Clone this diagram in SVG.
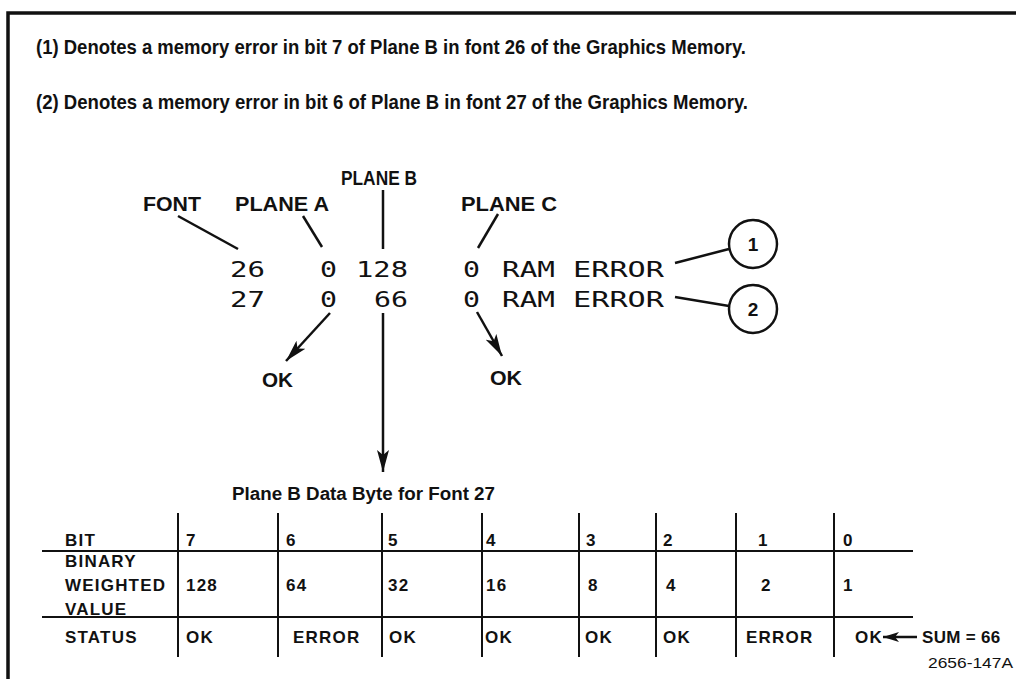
<svg xmlns="http://www.w3.org/2000/svg" width="1016" height="679" viewBox="0 0 1016 679">
<defs>
<style>
.b{font-family:"Liberation Sans",Arial,sans-serif;font-weight:bold;fill:#111}
.hd{font-size:21px}
.lb{font-size:20px}
.tb{font-size:17px;letter-spacing:1.2px}
.lcd{font-family:"DejaVu Sans Mono","Liberation Mono",monospace;font-size:22px;fill:#111}
.ln{stroke:#111;stroke-width:2.5;fill:none}
.tl{stroke:#111;stroke-width:2;fill:none}
.n{font-family:"Liberation Sans",Arial,sans-serif;font-size:15px;fill:#111}
</style>
<marker id="ah" viewBox="0 0 22 12" refX="22" refY="6" markerWidth="22" markerHeight="12" markerUnits="userSpaceOnUse" orient="auto">
<path d="M0,0 L22,6 L0,12 L5,6 Z" fill="#111"/>
</marker>
<marker id="ahs" viewBox="0 0 16 10" refX="16" refY="5" markerWidth="16" markerHeight="10" markerUnits="userSpaceOnUse" orient="auto">
<path d="M0,0 L16,5 L0,10 L4,5 Z" fill="#111"/>
</marker>
</defs>
<rect width="1016" height="679" fill="#fff"/>
<g id="frame">
<path d="M8,679 L8,13 L1016,13" stroke="#111" stroke-width="3.5" fill="none"/>
</g>
<g id="notes">
<text class="b hd" x="36" y="54" textLength="710" lengthAdjust="spacingAndGlyphs">(1) Denotes a memory error in bit 7 of Plane B in font 26 of the Graphics Memory.</text>
<text class="b hd" x="36" y="109" textLength="712" lengthAdjust="spacingAndGlyphs">(2) Denotes a memory error in bit 6 of Plane B in font 27 of the Graphics Memory.</text>
</g>
<g id="label-font"><text class="b lb" x="143" y="211" textLength="58" lengthAdjust="spacingAndGlyphs">FONT</text></g>
<g id="label-plane-a"><text class="b lb" x="235" y="211" textLength="94" lengthAdjust="spacingAndGlyphs">PLANE A</text></g>
<g id="label-plane-b"><text class="b lb" x="341" y="185" textLength="76" lengthAdjust="spacingAndGlyphs">PLANE B</text></g>
<g id="label-plane-c"><text class="b lb" x="461" y="211" textLength="96" lengthAdjust="spacingAndGlyphs">PLANE C</text></g>
<g id="display">
<text class="lcd" x="230" y="277" textLength="35" lengthAdjust="spacingAndGlyphs">26</text>
<text class="lcd" x="320" y="277" textLength="17" lengthAdjust="spacingAndGlyphs">0</text>
<text class="lcd" x="356" y="277" textLength="52" lengthAdjust="spacingAndGlyphs">128</text>
<text class="lcd" x="463" y="277" textLength="17" lengthAdjust="spacingAndGlyphs">0</text>
<text class="lcd" x="502" y="277" textLength="53" lengthAdjust="spacingAndGlyphs">RAM</text>
<text class="lcd" x="573" y="277" textLength="91" lengthAdjust="spacingAndGlyphs">ERROR</text>
<text class="lcd" x="230" y="307" textLength="35" lengthAdjust="spacingAndGlyphs">27</text>
<text class="lcd" x="320" y="307" textLength="17" lengthAdjust="spacingAndGlyphs">0</text>
<text class="lcd" x="374" y="307" textLength="34" lengthAdjust="spacingAndGlyphs">66</text>
<text class="lcd" x="463" y="307" textLength="17" lengthAdjust="spacingAndGlyphs">0</text>
<text class="lcd" x="502" y="307" textLength="53" lengthAdjust="spacingAndGlyphs">RAM</text>
<text class="lcd" x="573" y="307" textLength="91" lengthAdjust="spacingAndGlyphs">ERROR</text>
</g>
<g id="note-1">
<circle cx="753" cy="244" r="24" class="ln"/>
<text class="b" x="753" y="251" font-size="19" text-anchor="middle">1</text>
</g>
<g id="note-2">
<circle cx="753" cy="309" r="24" class="ln"/>
<text class="b" x="753" y="316" font-size="19" text-anchor="middle">2</text>
</g>
<g id="ok-a"><text class="b lb" x="262" y="387" textLength="31" lengthAdjust="spacingAndGlyphs">OK</text></g>
<g id="ok-c"><text class="b lb" x="490" y="385" textLength="32" lengthAdjust="spacingAndGlyphs">OK</text></g>
<g id="connectors">
<line class="ln" x1="178" y1="216" x2="238" y2="249"/>
<line class="ln" x1="303" y1="216" x2="322" y2="247"/>
<line class="ln" x1="383" y1="190" x2="383" y2="249"/>
<line class="ln" x1="498" y1="214" x2="478" y2="248"/>
<line class="ln" x1="675" y1="263" x2="729" y2="249"/>
<line class="ln" x1="675" y1="297" x2="729" y2="306"/>
<line class="ln" x1="330" y1="313" x2="286" y2="361" marker-end="url(#ah)"/>
<line class="ln" x1="477" y1="312" x2="502" y2="356" marker-end="url(#ah)"/>
<line class="ln" x1="383" y1="313" x2="383" y2="472" marker-end="url(#ah)"/>
<line class="ln" x1="917" y1="637" x2="883" y2="637" marker-end="url(#ahs)"/>
</g>
<g id="table-title"><text class="b" x="232" y="500" font-size="18" textLength="263" lengthAdjust="spacingAndGlyphs">Plane B Data Byte for Font 27</text></g>
<g id="table">
<line class="tl" x1="42" y1="551" x2="913" y2="551"/>
<line class="tl" x1="42" y1="617" x2="913" y2="617"/>
<line class="tl" x1="178" y1="513" x2="178" y2="657"/>
<line class="tl" x1="278" y1="513" x2="278" y2="657"/>
<line class="tl" x1="382" y1="513" x2="382" y2="657"/>
<line class="tl" x1="482" y1="513" x2="482" y2="657"/>
<line class="tl" x1="579" y1="513" x2="579" y2="657"/>
<line class="tl" x1="656" y1="513" x2="656" y2="657"/>
<line class="tl" x1="736" y1="513" x2="736" y2="657"/>
<line class="tl" x1="834" y1="513" x2="834" y2="657"/>
<g class="b tb">
<text x="65" y="546">BIT</text>
<text x="186" y="546">7</text>
<text x="286" y="546">6</text>
<text x="388" y="546">5</text>
<text x="486" y="546">4</text>
<text x="586" y="546">3</text>
<text x="663" y="546">2</text>
<text x="758" y="546">1</text>
<text x="843" y="546">0</text>
<text x="65" y="567">BINARY</text>
<text x="65" y="591">WEIGHTED</text>
<text x="65" y="615">VALUE</text>
<text x="186" y="591">128</text>
<text x="286" y="591">64</text>
<text x="388" y="591">32</text>
<text x="486" y="591">16</text>
<text x="588" y="591">8</text>
<text x="666" y="591">4</text>
<text x="761" y="591">2</text>
<text x="843" y="591">1</text>
<text x="65" y="643">STATUS</text>
<text x="186" y="643">OK</text>
<text x="293" y="643">ERROR</text>
<text x="389" y="643">OK</text>
<text x="485" y="643">OK</text>
<text x="585" y="643">OK</text>
<text x="663" y="643">OK</text>
<text x="746" y="643">ERROR</text>
<text x="855" y="643">OK</text>
<text x="922" y="643" letter-spacing="0.3">SUM = 66</text>
</g>
</g>
<g id="figure-id"><text class="n" x="928" y="668" textLength="85" lengthAdjust="spacingAndGlyphs">2656-147A</text></g>
</svg>
